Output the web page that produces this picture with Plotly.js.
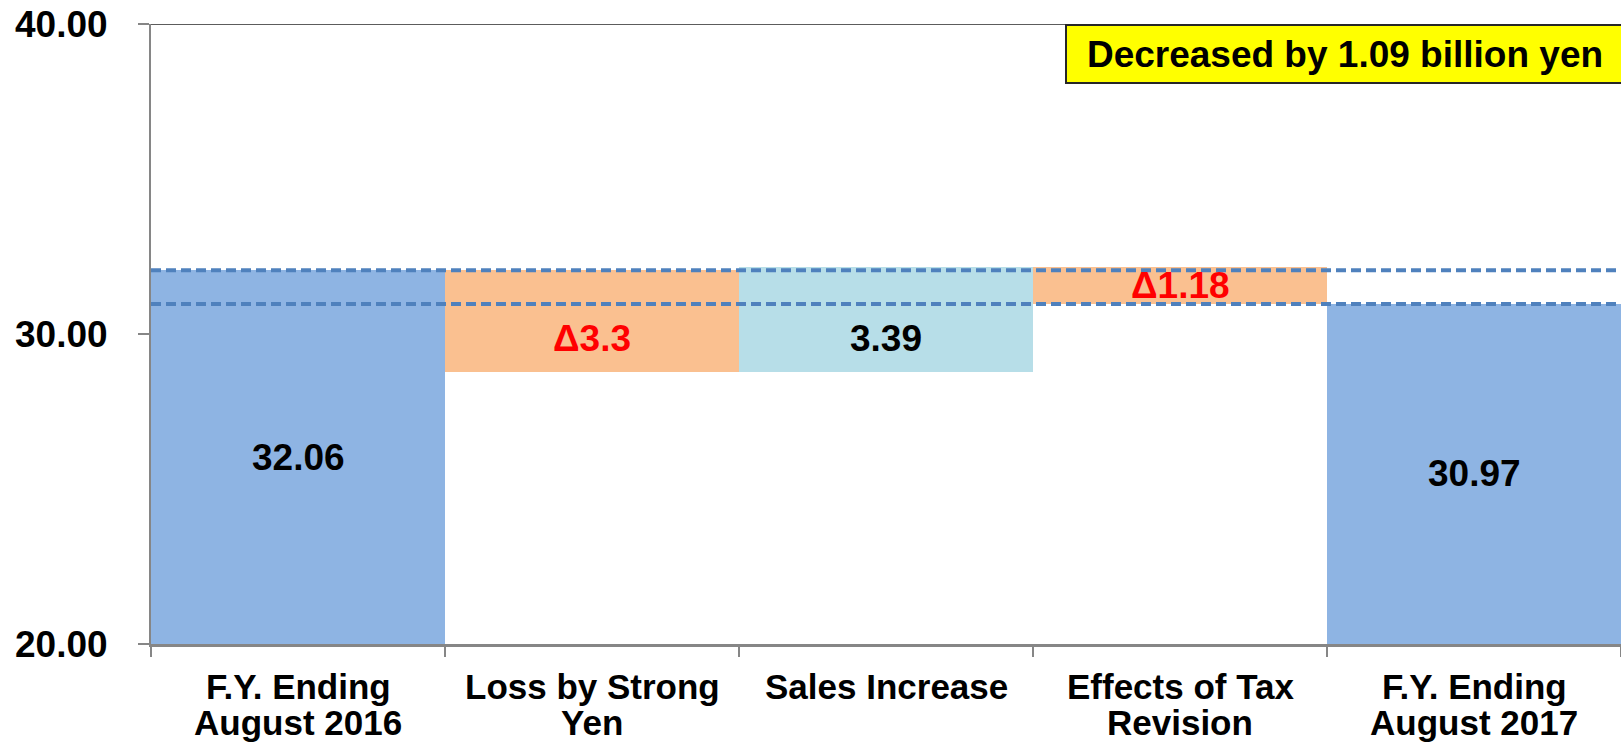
<!DOCTYPE html>
<html>
<head>
<meta charset="utf-8">
<script src="https://cdn.plot.ly/plotly-3.0.1.min.js"></script>
<style>
  html, body { margin: 0; padding: 0; background: #ffffff; }
  #chart { width: 1621px; height: 744px; }
</style>
</head>
<body>
<div id="chart"></div>
<script>
// ---- data ----
const categories = ['F.Y. Ending<br>August 2016', 'Loss by Strong<br>Yen', 'Sales Increase', 'Effects of Tax<br>Revision', 'F.Y. Ending<br>August 2017'];
const stepValues = [32.06, -3.3, 3.39, -1.18, 30.97];
const stepKinds = ['total', 'delta', 'delta', 'delta', 'total'];
const valueLabels = ['32.06', 'Δ3.3', '3.39', 'Δ1.18', '30.97'];
const yTickValues = [20, 30, 40];
const noteText = 'Decreased by 1.09 billion yen';

// ---- styles ----
const barColors = ['#8EB4E3', '#FAC090', '#B7DEE8', '#FAC090', '#8EB4E3'];
const labelColors = ['#000000', '#FF0000', '#000000', '#FF0000', '#000000'];
const FONT = 'Liberation Sans, Arial, sans-serif';
const yRange = [20, 40];

// ---- waterfall geometry from the data ----
const bases = [], heights = [], starts = [], ends = [];
let running = 0;
stepValues.forEach((v, i) => {
  if (stepKinds[i] === 'total') {
    starts.push(0); ends.push(v);
    bases.push(0); heights.push(v);
    running = v;
  } else {
    const s = running, e = running + v;
    starts.push(s); ends.push(e);
    bases.push(Math.min(s, e)); heights.push(Math.abs(v));
    running = e;
  }
});
const startValue = stepValues[0];
const finalValue = running;

// label y positions derived from bar extents
const labelY = stepValues.map((v, i) => {
  if (stepKinds[i] === 'total') return (yRange[0] + ends[i]) / 2;
  const lo = Math.min(starts[i], ends[i]);
  const hi = Math.max(starts[i], ends[i]);
  const top = (lo < finalValue) ? Math.min(hi, finalValue) : hi;
  return (lo + top) / 2;
});

const trace = {
  type: 'bar',
  x: categories,
  y: heights,
  base: bases,
  width: 1,
  marker: { color: barColors, line: { width: 0 } },
  hoverinfo: 'skip',
  showlegend: false
};

const annotations = [];
// value labels
valueLabels.forEach((t, i) => {
  annotations.push({
    x: categories[i], xref: 'x', y: labelY[i], yref: 'y',
    text: t, showarrow: false, xanchor: 'center', yanchor: 'middle',
    font: { family: FONT, size: 37, color: labelColors[i], weight: 'bold' }
  });
});
// category labels (one annotation per line for tight line spacing)
categories.forEach((c) => {
  c.split('<br>').forEach((line, j) => {
    annotations.push({
      x: c, xref: 'x', y: 0, yref: 'paper',
      text: line, showarrow: false, xanchor: 'center', yanchor: 'top',
      yshift: -21 - j * 36,
      font: { family: FONT, size: 35, color: '#000000', weight: 'bold' }
    });
  });
});
// note box
annotations.push({
  x: (1065 - 151) / 1470, xref: 'paper', y: 1, yref: 'paper',
  xanchor: 'left', yanchor: 'top',
  text: noteText, showarrow: false,
  width: 556, height: 56, borderpad: 0,
  bgcolor: '#FFFF00', bordercolor: '#262626', borderwidth: 2,
  font: { family: FONT, size: 37, color: '#000000', weight: 'bold' },
  align: 'center', valign: 'middle'
});

const shapes = [
  { type: 'line', xref: 'paper', x0: 0, x1: 1, yref: 'y', y0: yRange[1], y1: yRange[1],
    line: { color: '#262626', width: 1.5 }, layer: 'above' },
  { type: 'line', xref: 'paper', x0: 0, x1: 1, yref: 'y', y0: startValue, y1: startValue,
    line: { color: '#4F81BD', width: 4, dash: '10px,5px' }, layer: 'above' },
  { type: 'line', xref: 'paper', x0: 0, x1: 1, yref: 'y', y0: finalValue, y1: finalValue,
    line: { color: '#4F81BD', width: 4, dash: '10px,5px' }, layer: 'above' }
];

const layout = {
  width: 1621, height: 744,
  margin: { l: 151, r: 0, t: 24, b: 100, pad: 0 },
  paper_bgcolor: '#ffffff', plot_bgcolor: '#ffffff',
  bargap: 0,
  showlegend: false,
  xaxis: {
    type: 'category', range: [-0.5, categories.length - 0.5],
    tickson: 'boundaries', ticks: 'outside', ticklen: 10, tickwidth: 1.5, tickcolor: '#868686',
    showline: true, linecolor: '#868686', linewidth: 2.5,
    showticklabels: false, showgrid: false, zeroline: false, fixedrange: true
  },
  yaxis: {
    range: yRange, tickvals: yTickValues, ticktext: yTickValues.map(v => v.toFixed(2)),
    ticks: 'outside', ticklen: 11, tickwidth: 1.5, tickcolor: '#868686',
    showline: true, linecolor: '#868686', linewidth: 2,
    showgrid: false, zeroline: false, fixedrange: true,
    ticklabelstandoff: 23,
    tickfont: { family: FONT, size: 37, color: '#000000', weight: 'bold' }
  },
  annotations: annotations,
  shapes: shapes
};

Plotly.newPlot('chart', [trace], layout, { displayModeBar: false, staticPlot: true });
</script>
</body>
</html>
